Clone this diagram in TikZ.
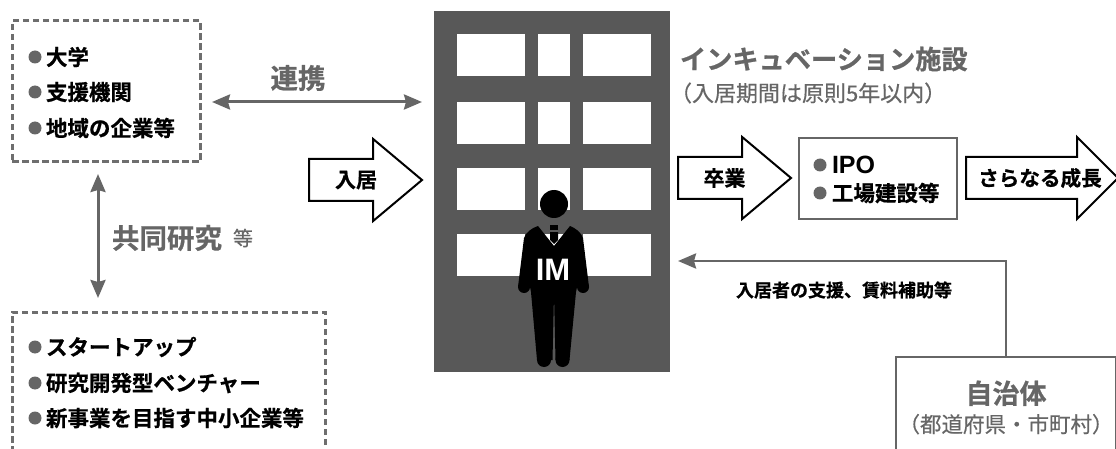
\documentclass[tikz,border=0pt]{standalone}
\usepackage{fontspec}
\setmainfont{Noto Sans CJK JP}[BoldFont=* Bold, BoldFeatures={FakeBold=0.7}]
\newfontfamily\latinfont{Liberation Sans}
\newfontfamily\softfont{Noto Sans CJK JP}[FakeBold=0.5]
\usetikzlibrary{shapes.arrows,arrows.meta,calc}
\definecolor{towergray}{HTML}{585858}
\definecolor{labelgray}{HTML}{666666}
\definecolor{dashgray}{HTML}{6E6E6E}
\newcommand{\fsz}[1]{\fontsize{#1}{#1}\selectfont}

\begin{document}
\begin{tikzpicture}[
    x=1pt, y=-1pt,
    every node/.style={inner sep=0pt, outer sep=0pt},
    dashbox/.style={draw=dashgray, line width=3pt, dash pattern=on 6.5pt off 3.5pt},
    solidbox/.style={draw=labelgray, line width=2.8pt, align=center},
    window/.style={fill=white},
    bulletdot/.style={circle, fill=labelgray, minimum size=13pt},
    listtext/.style={anchor=west, font=\fsz{21.5}\bfseries, text=black},
    graylabel/.style={font=\fsz{27.5}\bfseries, text=labelgray},
    blocklabel/.style={font=\fsz{21}\bfseries, text=black},
    blockarrow/.style={single arrow, draw=black, fill=white, line width=2pt, anchor=tip,
        inner ysep=20pt, minimum width=80pt, single arrow head extend=20pt, single arrow tip angle=80},
    linkarrow/.style={draw=labelgray, line width=3pt,
        {Stealth[length=18pt,width=15pt,inset=2pt]}-{Stealth[length=18pt,width=15pt,inset=2pt]}}
]

\useasboundingbox (0,0) rectangle (1116,449);
\clip (0,0) rectangle (1116,449);

% Building
\node[fill=towergray, minimum width=236pt, minimum height=361pt] (tower) at (552,191.5) {};

% Windows
\foreach \y in {55,123,189,255} {
    \node[window, minimum width=68pt, minimum height=42pt] (winl\y) at (491,\y) {};
    \node[window, minimum width=32pt, minimum height=42pt] (winm\y) at (554,\y) {};
    \node[window, minimum width=68pt, minimum height=42pt] (winr\y) at (617,\y) {};
}

% Person
\fill[black] (554,204) circle (14pt);
\fill[black] (538,226) -- (554,246) -- (570,226)
    .. controls (575,228) and (581,232) .. (583,238)
    -- (589,287) -- (577,287) -- (576,292) -- (569.5,360) -- (555.5,360) -- (554,294)
    -- (552.5,360) -- (537,360) -- (531,292) -- (530,287) -- (518,287) -- (524,238)
    .. controls (526,232) and (532,228) .. (538,226) -- cycle;
\foreach \x/\y/\r in {583/287/6,524/287/6,562.5/360/7,544/360/7} {
    \fill[black] (\x,\y) circle (\r pt);
}
\fill[black] (549.5,225) rectangle (558,230);
\fill[black] (550,232) -- (558,232) -- (558,240) -- (554,244) -- (550,240) -- cycle;
\node[font=\latinfont\fsz{31}\bfseries, text=white] (imlabel) at (553,270) {IM};

% Upper partners
\node[dashbox, minimum width=188pt, minimum height=141pt] (partners) at (106,91.5) {};
\foreach \y/\txt in {57/大学,92/支援機関,128/地域の企業等} {
    \node[bulletdot] (updot\y) at (35,\y) {};
    \node[listtext] (uptext\y) at (46,\y) {\txt};
}

% Lower partners (runs off the page)
\node[dashbox, minimum width=313pt, minimum height=200pt] (startups) at (168.5,412) {};
\foreach \y/\txt in {347/スタートアップ,383/研究開発型ベンチャー,418/新事業を目指す中小企業等} {
    \node[bulletdot] (lowdot\y) at (35,\y) {};
    \node[listtext] (lowtext\y) at (46,\y) {\txt};
}

% Links between partners and building
\coordinate (linkleft) at (212,102);
\coordinate (linkright) at (422,102);
\draw[linkarrow] (linkleft) -- (linkright);
\node[graylabel] (linklabel) at (298,78) {連携};

\coordinate (jointtop) at (98,174);
\coordinate (jointbottom) at (98,298);
\draw[linkarrow] (jointtop) -- (jointbottom);
\node[graylabel, anchor=west] (jointlabel) at (112,238) {共同研究};
\node[font=\softfont\fsz{20}, text=labelgray, anchor=west] (jointetc) at (233,238) {等};

% Block arrows
\node[blockarrow, minimum height=113pt] (movein) at (422,180) {};
\node[blocklabel] (moveinlabel) at (356,180) {入居};

\node[blockarrow, minimum height=113pt] (graduate) at (791,178) {};
\node[blocklabel] (graduatelabel) at (724.5,178) {卒業};

\node[blockarrow, minimum height=152pt, single arrow tip angle=90] (growth) at (1118,178) {};
\node[blocklabel, font=\fsz{20.6}\bfseries] (growthlabel) at (1040,178) {さらなる成長};

% Facility title
\node[anchor=west, font=\fsz{26.2}\bfseries, text=labelgray] (title) at (680,59) {インキュベーション施設};
\node[anchor=west, font=\softfont\fsz{22}, text=labelgray] (subtitle) at (670,93) {（入居期間は原則5年以内）};

% Exit box
\node[solidbox, minimum width=158pt, minimum height=81pt] (exitbox) at (878,178.5) {};
\node[bulletdot] (ipodot) at (820,165) {};
\node[listtext, font=\latinfont\fsz{25}\bfseries] (ipotext) at (832,165) {IPO};
\node[bulletdot] (plantdot) at (820,193) {};
\node[listtext] (planttext) at (832,193) {工場建設等};

% Municipality
\node[solidbox, minimum width=220pt, minimum height=101pt] (city) at (1006,407.5) {
    {\fsz{27}\bfseries\color{labelgray}自治体}\\[7pt]
    {\softfont\fsz{21.5}\color{labelgray}（都道府県・市町村）}
};
\coordinate (citycorner) at (city.north |- 0,261);
\coordinate (towerfoot) at (678,261);
\draw[draw=labelgray, line width=2.8pt, -{Stealth[length=18pt,width=15pt,inset=2pt]}]
    (city.north) -- (citycorner) -- (towerfoot);
\node[font=\fsz{18}\bfseries, text=black] (supportlabel) at (844,290) {入居者の支援、賃料補助等};

\end{tikzpicture}
\end{document}
